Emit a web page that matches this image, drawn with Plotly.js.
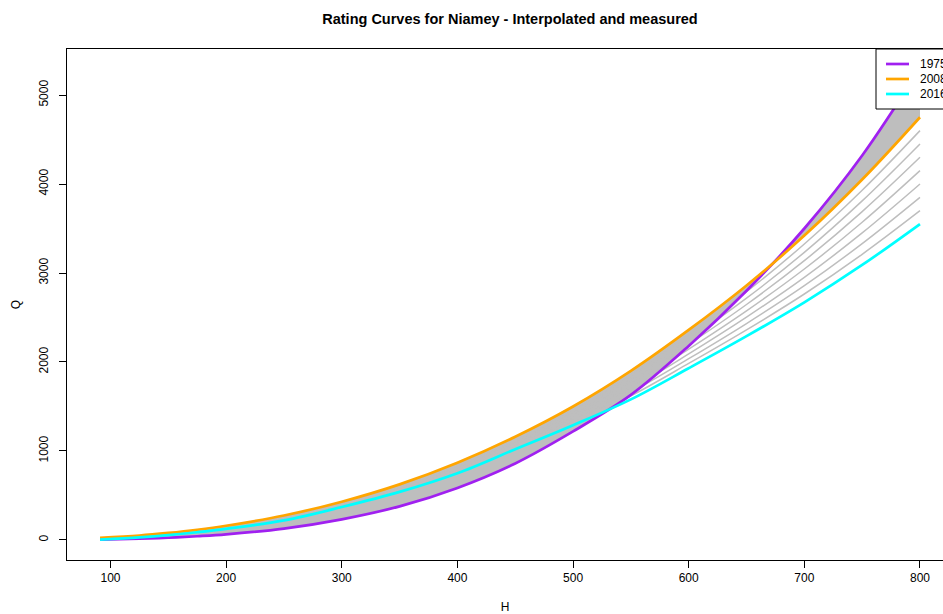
<!DOCTYPE html>
<html>
<head>
<meta charset="utf-8">
<script src="https://cdn.plot.ly/plotly-3.0.1.min.js"></script>
<style>
html,body{margin:0;padding:0;background:#fff;}
#chart{width:943px;height:614px;}
</style>
</head>
<body>
<div id="chart"></div>
<script>
// Stage H (x) and discharge Q (y)
const H = [91, 125, 150, 175, 200, 250, 300, 350, 400, 450, 500, 550, 600, 650, 700, 750, 800];

// measured rating curves
const q1975 = [3, 14, 25, 42, 63, 128, 232, 378, 585, 860, 1220, 1630, 2180, 2800, 3500, 4320, 5300];
const q2008 = [25, 50, 79, 115, 160, 275, 430, 625, 868, 1160, 1500, 1900, 2360, 2860, 3420, 4050, 4750];
const q2016 = [5, 30, 55, 87, 125, 220, 370, 540, 750, 1020, 1290, 1580, 1930, 2290, 2670, 3090, 3550];

// interpolated curves 2009..2015 (grey lines)
const q2009 = [22, 47, 76, 111, 156, 268, 422, 614, 853, 1142, 1474, 1860, 2306, 2789, 3326, 3930, 4600];
const q2010 = [20, 45, 73, 108, 151, 261, 415, 604, 839, 1125, 1447, 1820, 2252, 2717, 3232, 3810, 4450];
const q2011 = [18, 42, 70, 104, 147, 254, 407, 593, 824, 1107, 1421, 1780, 2199, 2646, 3139, 3690, 4300];
const q2012 = [15, 40, 67, 101, 142, 247, 400, 582, 809, 1090, 1395, 1740, 2145, 2575, 3045, 3570, 4150];
const q2013 = [12, 37, 64, 97, 138, 240, 392, 572, 794, 1072, 1369, 1700, 2091, 2504, 2951, 3450, 4000];
const q2014 = [10, 35, 61, 94, 134, 234, 385, 561, 780, 1055, 1342, 1660, 2037, 2432, 2857, 3330, 3850];
const q2015 = [8, 32, 58, 90, 129, 227, 377, 551, 765, 1037, 1316, 1620, 1984, 2361, 2764, 3210, 3700];

const greyLines = [q2009, q2010, q2011, q2012, q2013, q2014, q2015];

const legendNames = ['1975', '2008', '2016'];
const legendColors = ['#A020F0', '#FFA500', '#00FFFF'];

const xTicks = [100, 200, 300, 400, 500, 600, 700, 800];
const yTicks = [0, 1000, 2000, 3000, 4000, 5000];

const GREY = '#BEBEBE';
const FONT = 'Liberation Sans, Arial, sans-serif';
const traces = [];

// dense band of interpolated curves 1976..2007 between 1975 and 2008
traces.push({
  x: H.concat(H.slice().reverse()),
  y: q1975.concat(q2008.slice().reverse()),
  type: 'scatter', mode: 'lines', fill: 'toself',
  fillcolor: GREY, line: {width: 0, color: GREY},
  showlegend: false, hoverinfo: 'skip'
});

greyLines.forEach(function (q) {
  traces.push({
    x: H, y: q, type: 'scatter', mode: 'lines',
    line: {color: GREY, width: 1.5, shape: 'spline'},
    showlegend: false, hoverinfo: 'skip'
  });
});

[q1975, q2008, q2016].forEach(function (q, i) {
  traces.push({x: H, y: q, type: 'scatter', mode: 'lines', name: legendNames[i],
    line: {color: legendColors[i], width: 2.7, shape: 'spline'}, showlegend: false});
});

// plot area in pixels: left 67, right 943, top 49, bottom 560
const PL = 67, PW = 876, PT = 49, PB = 560, PH = PB - PT;
const px = v => (v - PL) / PW;
const py = v => (PB - v) / PH;

// legend box (top-right, partly cut by the image edge, as in the reference)
const shapes = [{
  type: 'rect', xref: 'paper', yref: 'paper',
  x0: px(876), x1: px(975), y0: py(109), y1: py(49),
  fillcolor: '#fff', line: {color: '#000', width: 1}, layer: 'above'
}];
const annotations = [];
legendNames.forEach(function (n, i) {
  const rowY = 64 + 15 * i;
  shapes.push({
    type: 'line', xref: 'paper', yref: 'paper',
    x0: px(886), x1: px(909), y0: py(rowY), y1: py(rowY),
    line: {color: legendColors[i], width: 2.7}, layer: 'above'
  });
  annotations.push({
    xref: 'paper', yref: 'paper', x: px(918), y: py(rowY),
    xanchor: 'left', yanchor: 'middle', text: n, showarrow: false,
    font: {family: FONT, size: 12, color: '#000'}
  });
});

const layout = {
  width: 943, height: 614,
  margin: {l: PL, r: 0, t: PT, b: 614 - PB, autoexpand: false},
  paper_bgcolor: '#fff', plot_bgcolor: '#fff',
  font: {family: FONT, size: 12, color: '#000'},
  title: {
    text: '<b>Rating Curves for Niamey - Interpolated and measured</b>',
    font: {family: FONT, size: 14.5, color: '#000'},
    x: px(510), xref: 'paper', xanchor: 'center',
    y: 1 - 19 / 614, yref: 'container', yanchor: 'middle'
  },
  xaxis: {
    range: [62.4, 819.9], tickmode: 'array', tickvals: xTicks,
    ticks: 'outside', ticklen: 7, tickcolor: '#000', tickwidth: 1,
    showline: true, linecolor: '#000', linewidth: 1, mirror: true,
    showgrid: false, zeroline: false,
    tickfont: {family: FONT, size: 12, color: '#000'},
    title: {text: 'H', font: {family: FONT, size: 12, color: '#000'}, standoff: 20}
  },
  yaxis: {
    range: [-225, 5517], tickmode: 'array', tickvals: yTicks,
    ticks: 'outside', ticklen: 7, tickcolor: '#000', tickwidth: 1,
    showline: true, linecolor: '#000', linewidth: 1,
    showgrid: false, zeroline: false, tickangle: -90,
    ticklabelstandoff: 6,
    tickfont: {family: FONT, size: 12, color: '#000'},
    title: {text: 'Q', font: {family: FONT, size: 12, color: '#000'}, standoff: 14}
  },
  shapes: shapes,
  annotations: annotations,
  showlegend: false
};

Plotly.newPlot('chart', traces, layout, {staticPlot: true, displayModeBar: false});
</script>
</body>
</html>
